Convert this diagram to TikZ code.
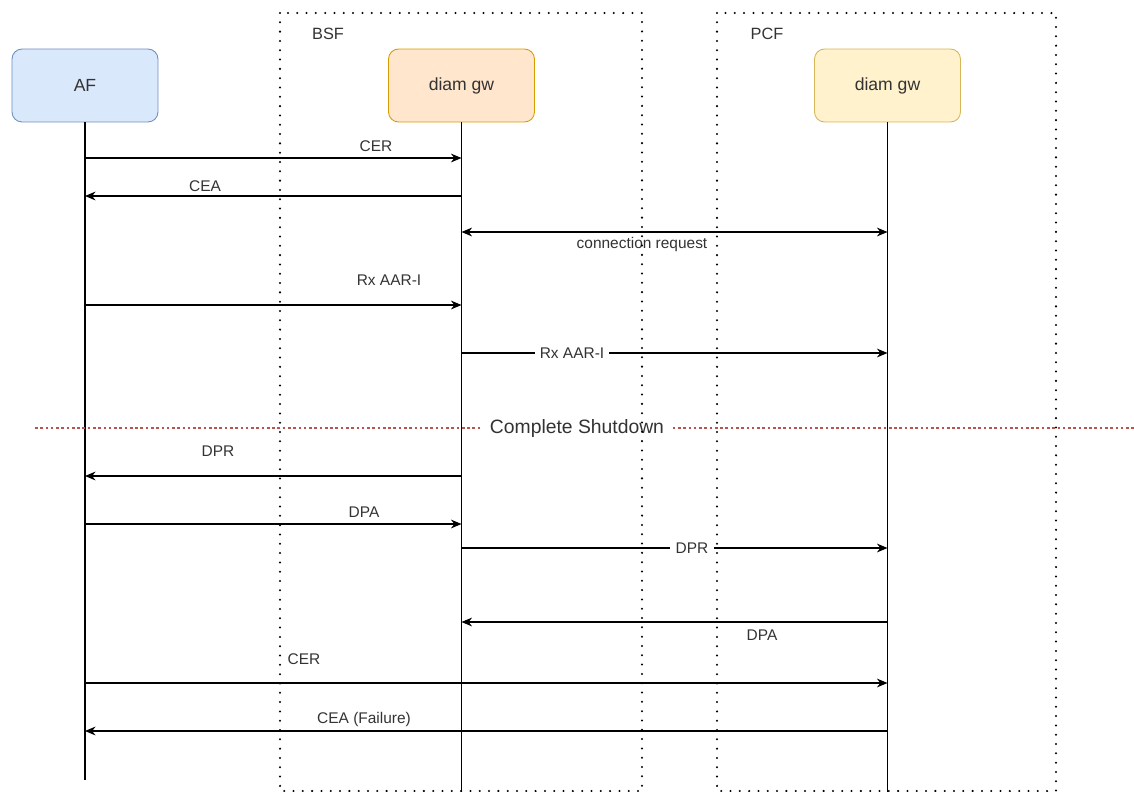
\documentclass[tikz,border=0pt]{standalone}
\usepackage{fontspec}
\setmainfont{Liberation Sans}
\usetikzlibrary{arrows.meta}

\definecolor{afFill}{HTML}{DAE8FC}
\definecolor{afLine}{HTML}{6C8EBF}
\definecolor{bsfFill}{HTML}{FFE6CC}
\definecolor{bsfLine}{HTML}{D79B00}
\definecolor{pcfFill}{HTML}{FFF2CC}
\definecolor{pcfLine}{HTML}{D6B656}
\definecolor{cutLine}{HTML}{B85450}
\definecolor{txt}{HTML}{333333}

\begin{document}
\begin{tikzpicture}[x=0.02cm, y=-0.02cm,
    actor/.style={draw, rounded corners=0.2cm, minimum width=2.92cm, minimum height=1.46cm,
        line width=0.5pt, text=txt, font=\fontsize{10}{12}\selectfont},
    frame/.style={line width=1.3pt, line cap=round, dash pattern=on 0pt off 5.3pt},
    life/.style={line width=0.6pt},
    msg/.style={line width=0.6pt, -{Stealth[length=6pt, width=5pt]}},
    lbl/.style={text=txt, font=\fontsize{8.8}{10}\selectfont, inner sep=1pt},
    inl/.style={lbl, fill=white, inner sep=3pt}]
    \useasboundingbox (0,0) rectangle (1134,792);

    % Teilnehmer
    \node[actor, fill=afFill, draw=afLine] (af) at (85,85.5) {AF};
    \node[actor, fill=bsfFill, draw=bsfLine] (bsf) at (461.5,85.5) {diam gw};
    \node[actor, fill=pcfFill, draw=pcfLine] (pcf) at (887.5,85.5) {diam gw};

    % Lebenslinien
    \coordinate (afEnd) at (85,780);
    \coordinate (bsfEnd) at (461.5,792);
    \coordinate (pcfEnd) at (887.5,792);
    \draw[life] (af.south) -- (afEnd);
    \draw[life] (bsf.south) -- (bsfEnd);
    \draw[life] (pcf.south) -- (pcfEnd);

    % Verbindungsaufbau
    \draw[msg] (af |- 0,158) -- (bsf |- 0,158);
    \node[lbl] (cer1) at (376,146) {CER};
    \draw[msg] (bsf |- 0,196) -- (af |- 0,196);
    \node[lbl] (cea1) at (205,186) {CEA};
    \draw[msg, {Stealth[length=6pt, width=5pt]}-{Stealth[length=6pt, width=5pt]}] (bsf |- 0,232) -- (pcf |- 0,232);
    \node[lbl] (conn) at (642,244) {connection request};

    % Rx
    \draw[msg] (af |- 0,305) -- (bsf |- 0,305);
    \node[lbl] (aar1) at (389,280) {Rx AAR-I};
    \draw[msg] (bsf |- 0,353) -- (pcf |- 0,353);
    \node[inl] (aar2) at (572,353) {Rx AAR-I};

    % Shutdown
    \def\ycut{428}
    \draw[cutLine, line width=0.6pt, dash pattern=on 1.5pt off 1.5pt] (35,\ycut) -- (1134,\ycut);
    \node[fill=white, text=txt, inner sep=4pt, font=\fontsize{11}{13}\selectfont] (cut) at (577,\ycut) {Complete Shutdown};

    % Abbau
    \draw[msg] (bsf |- 0,476) -- (af |- 0,476);
    \node[lbl] (dpr1) at (218,451) {DPR};
    \draw[msg] (af |- 0,524) -- (bsf |- 0,524);
    \node[lbl] (dpa1) at (364,512) {DPA};
    \draw[msg] (bsf |- 0,548) -- (pcf |- 0,548);
    \node[inl] (dpr2) at (692,548) {DPR};
    \draw[msg] (pcf |- 0,622) -- (bsf |- 0,622);
    \node[lbl] (dpa2) at (762,635) {DPA};

    % neuer Versuch
    \draw[msg] (af |- 0,683) -- (pcf |- 0,683);
    \node[lbl] (cer2) at (304,659) {CER};
    \draw[msg] (pcf |- 0,731) -- (af |- 0,731);
    \node[lbl] (cea2) at (364,719) {CEA (Failure)};

    % Rahmen BSF / PCF
    \draw[frame] (280,13) rectangle (642,791);
    \draw[frame] (717,13) rectangle (1056,791);
    \node[text=txt, font=\fontsize{9.3}{11}\selectfont] (bsfName) at (328,34) {BSF};
    \node[text=txt, font=\fontsize{9.3}{11}\selectfont] (pcfName) at (767,34) {PCF};
\end{tikzpicture}
\end{document}
